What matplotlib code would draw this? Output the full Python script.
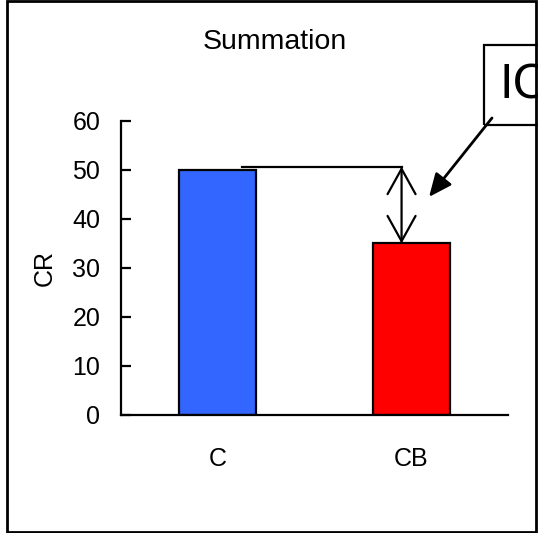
import matplotlib.pyplot as plt
from matplotlib.patches import Rectangle

# 데이터
categories = ["C", "CB"]
values = [50, 35]
bar_colors = ["#3366FF", "#FF0000"]
yticks = [0, 10, 20, 30, 40, 50, 60]

plt.rcParams['font.family'] = ['Liberation Sans', 'DejaVu Sans']

fig = plt.figure(figsize=(5.38, 5.33), dpi=100)
ax = fig.add_axes([0.2249, 0.2214, 0.7193, 0.5516])

x = range(len(categories))
ax.bar(x, values, width=0.4, color=bar_colors, edgecolor="black", linewidth=1.6)

ax.set_xlim(-0.5, 1.5)
ax.set_ylim(0, 60)
ax.set_yticks(yticks)
ax.set_xticks(list(x), categories)
ax.tick_params(axis="y", direction="in", length=7, width=1.6, pad=15, labelsize=18)
ax.tick_params(axis="x", length=0, pad=23, labelsize=18)
ax.set_ylabel("CR", fontsize=18, labelpad=11)
for s in ["top", "right"]:
    ax.spines[s].set_visible(False)
for s in ["left", "bottom"]:
    ax.spines[s].set_linewidth(1.6)

fig.text(0.51, 0.921, "Summation", ha="center", va="center", fontsize=20.5)

# 차이 표시
ax.plot([0.125, 0.95], [50.7, 50.7], color="black", lw=1.6)
ax.annotate("", xy=(0.95, values[1]), xytext=(0.95, 50.7),
            arrowprops=dict(arrowstyle="<->,head_length=0.65,head_width=0.36",
                            mutation_scale=28, lw=1.6,
                            shrinkA=0, shrinkB=0, color="black"))

# IC 박스
fig.patches.append(Rectangle((484 / 538, 1 - 125 / 533), 0.2, 80 / 533,
                             transform=fig.transFigure, fill=False,
                             edgecolor="black", lw=1.6))
fig.text(500 / 538, 1 - 86 / 533, "IC", fontsize=33, family="DejaVu Sans",
         ha="left", va="center")
ax.annotate("", xy=(1.092, 44.5), xycoords="data",
            xytext=(492 / 538, 1 - 118 / 533), textcoords="figure fraction",
            arrowprops=dict(arrowstyle="-|>,head_length=0.5,head_width=0.22",
                            mutation_scale=28, lw=2,
                            shrinkA=0, shrinkB=0, color="black"),
            annotation_clip=False)

# 바깥 테두리
fig.patches.append(Rectangle((7 / 538, 1 / 533), 529 / 538, 531 / 533,
                             transform=fig.transFigure, fill=False,
                             edgecolor="black", lw=2))

plt.savefig("out.png", dpi=100)
